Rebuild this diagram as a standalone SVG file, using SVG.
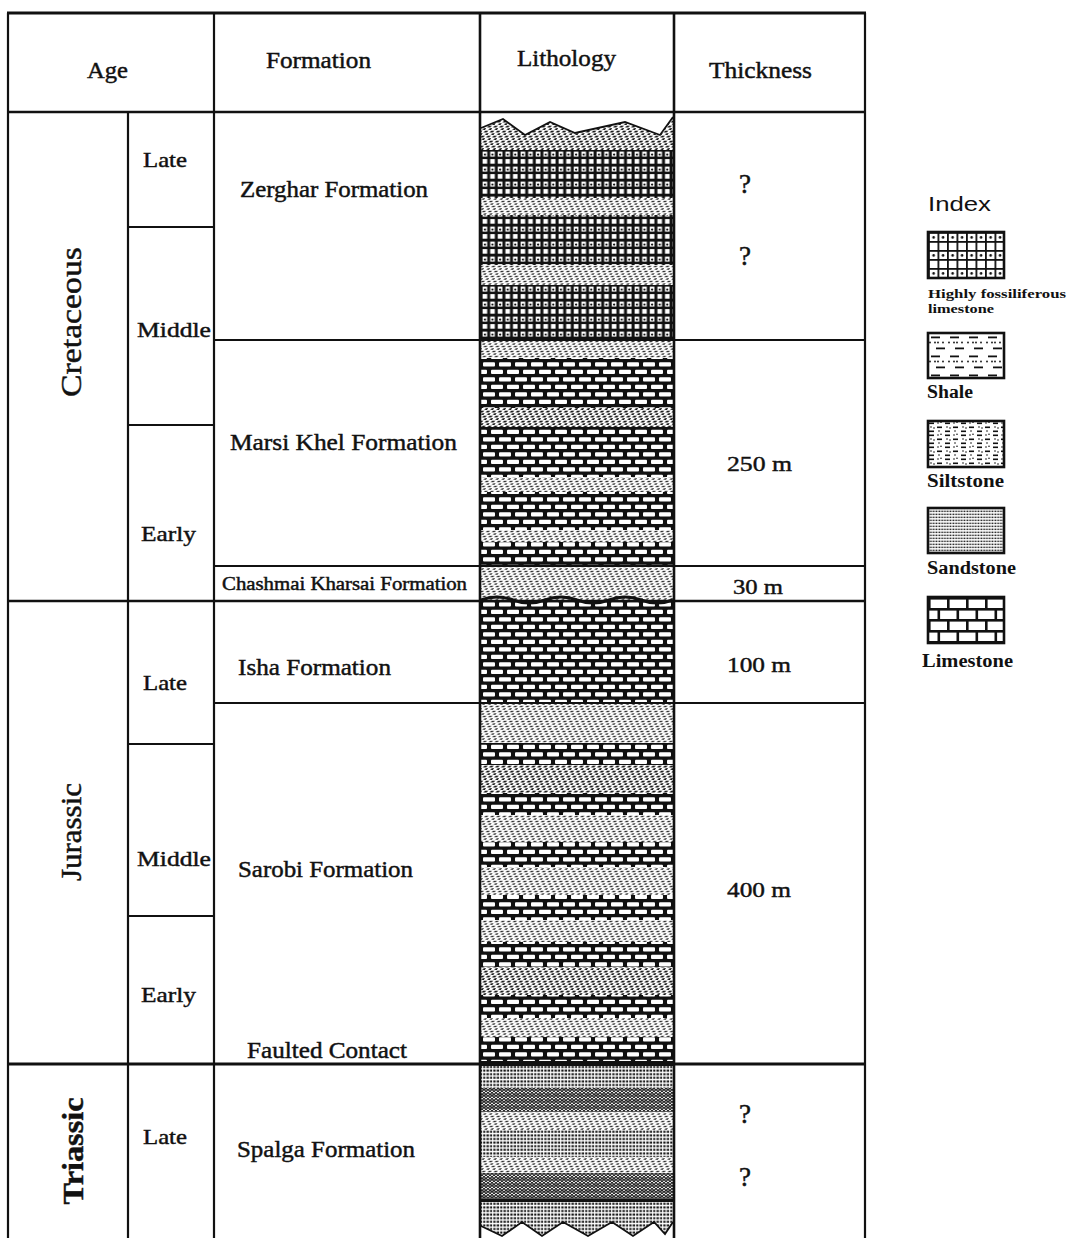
<svg xmlns="http://www.w3.org/2000/svg" width="1068" height="1238" viewBox="0 0 1068 1238">
<style>
 .ln{stroke:#111;stroke-width:2.2;fill:none}
 .t{font-family:"Liberation Serif","Times New Roman",serif;fill:#111;stroke:#111;stroke-width:0.45}
 .hd{font-size:23px}
 .fm{font-size:23px}
 .ag{font-size:22px}
 .th{font-size:22px}
 .q{font-size:27px}
 .era{font-size:30px}
 .lg{font-size:18px;font-weight:bold;stroke-width:0}
 .lgs{font-size:13px;font-weight:bold;stroke-width:0}
 .sans{font-family:"Liberation Sans",Arial,sans-serif;font-size:21px;fill:#111}
 .box{stroke:#111;stroke-width:2.6}
</style>
<defs>
 <pattern id="pLime" patternUnits="userSpaceOnUse" x="481" y="0" width="16" height="15">
  <rect width="16" height="15" fill="#111"/>
  <rect x="2" y="2.3" width="12" height="4.3" rx="1" fill="#fff"/>
  <rect x="10" y="9.8" width="12" height="4.3" rx="1" fill="#fff"/>
  <rect x="-6" y="9.8" width="12" height="4.3" rx="1" fill="#fff"/>
 </pattern>
 <pattern id="pFoss" patternUnits="userSpaceOnUse" x="481" y="0" width="7.6" height="15">
  <rect width="7.6" height="15" fill="#111"/>
  <rect x="1.6" y="1.6" width="4.6" height="5" fill="#fff"/>
  <rect x="1.6" y="9.1" width="4.6" height="4.6" fill="#fff"/>
  <circle cx="3.9" cy="4.6" r="1.1" fill="#111"/>
 </pattern>
 <pattern id="pSilt" patternUnits="userSpaceOnUse" width="6" height="5" patternTransform="skewX(-35)">
  <rect width="6" height="5" fill="#fff"/>
  <rect x="0.5" y="0.6" width="3.2" height="1.9" fill="#1a1a1a"/>
  <rect x="3.5" y="3.1" width="3.2" height="1.9" fill="#1a1a1a"/>
 </pattern>
 <pattern id="pSiltL" patternUnits="userSpaceOnUse" width="6" height="5" patternTransform="skewX(-35)">
  <rect width="6" height="5" fill="#fff"/>
  <rect x="0.5" y="0.7" width="3" height="1.6" fill="#333"/>
  <rect x="3.5" y="3.2" width="3" height="1.6" fill="#333"/>
 </pattern>
 <pattern id="pSand" patternUnits="userSpaceOnUse" width="3.4" height="3.6">
  <rect width="3.4" height="3.6" fill="#fff"/>
  <rect x="0.3" y="0.4" width="2.3" height="2" fill="#111"/>
 </pattern>
 <pattern id="pHerr" patternUnits="userSpaceOnUse" width="8" height="6">
  <rect width="8" height="6" fill="#fff"/>
  <path d="M0 0L2 3L4 0L6 3L8 0M0 3L2 6L4 3L6 6L8 3" fill="none" stroke="#222" stroke-width="1.3"/>
 </pattern>
 <pattern id="legFoss" patternUnits="userSpaceOnUse" x="928" y="232" width="9.5" height="18">
  <rect width="9.5" height="18" fill="#fff"/>
  <rect x="0" y="0" width="9.5" height="1.8" fill="#111"/>
  <rect x="0" y="9" width="9.5" height="1.8" fill="#111"/>
  <rect x="0" y="0" width="1.8" height="18" fill="#111"/>
  <circle cx="5.6" cy="5.4" r="1.3" fill="#111"/>
 </pattern>
 <pattern id="legShale" patternUnits="userSpaceOnUse" x="928" y="333" width="19" height="19">
  <rect width="19" height="19" fill="#fff"/>
  <rect x="3" y="3.5" width="9" height="1.8" fill="#111"/>
  <circle cx="2" cy="9.5" r="0.9" fill="#111"/>
  <circle cx="7" cy="9.5" r="0.9" fill="#111"/>
  <circle cx="10" cy="9.5" r="0.9" fill="#111"/>
  <circle cx="15" cy="9.5" r="0.9" fill="#111"/>
  <rect x="8" y="14.5" width="9" height="1.8" fill="#111"/>
 </pattern>
 <pattern id="legSilt" patternUnits="userSpaceOnUse" x="928" y="421" width="16" height="12">
  <rect width="16" height="12" fill="#fff"/>
  <rect x="1" y="1.5" width="5" height="1.6" fill="#111"/>
  <rect x="9" y="5.5" width="5" height="1.6" fill="#111"/>
  <rect x="1" y="9.5" width="5" height="1.6" fill="#111"/>
  <circle cx="10" cy="2" r="0.8" fill="#111"/>
  <circle cx="13" cy="1.2" r="0.8" fill="#111"/>
  <circle cx="3" cy="6" r="0.8" fill="#111"/>
  <circle cx="6" cy="7" r="0.8" fill="#111"/>
  <circle cx="11" cy="10" r="0.8" fill="#111"/>
 </pattern>
 <pattern id="legSand" patternUnits="userSpaceOnUse" width="2.8" height="3">
  <rect width="2.8" height="3" fill="#fff"/>
  <rect x="0.5" y="0.6" width="1.7" height="1.5" fill="#222"/>
 </pattern>
 <pattern id="legLime" patternUnits="userSpaceOnUse" x="928" y="597" width="19" height="22">
  <rect width="19" height="22" fill="#fff"/>
  <rect x="0" y="0" width="19" height="2.6" fill="#111"/>
  <rect x="0" y="11" width="19" height="2.6" fill="#111"/>
  <rect x="0" y="0" width="2.6" height="11" fill="#111"/>
  <rect x="9.5" y="11" width="2.6" height="11" fill="#111"/>
 </pattern>
</defs>
<rect width="1068" height="1238" fill="#fff"/>

<g id="lithology">
 <rect x="481" y="113" width="192" height="37" fill="url(#pSilt)"/>
 <rect x="481" y="150" width="192" height="48" fill="url(#pFoss)"/>
 <rect x="481" y="198" width="192" height="17" fill="url(#pSiltL)"/>
 <rect x="481" y="215" width="192" height="50" fill="url(#pFoss)"/>
 <rect x="481" y="265" width="192" height="20" fill="url(#pSiltL)"/>
 <rect x="481" y="285" width="192" height="55" fill="url(#pFoss)"/>
 <rect x="481" y="340" width="192" height="18" fill="url(#pSiltL)"/>
 <rect x="481" y="358" width="192" height="50" fill="url(#pLime)"/>
 <rect x="481" y="408" width="192" height="19" fill="url(#pSilt)"/>
 <rect x="481" y="427" width="192" height="50" fill="url(#pLime)"/>
 <rect x="481" y="477" width="192" height="15" fill="url(#pSiltL)"/>
 <rect x="481" y="492" width="192" height="38" fill="url(#pLime)"/>
 <rect x="481" y="530" width="192" height="12" fill="url(#pSiltL)"/>
 <rect x="481" y="542" width="192" height="25" fill="url(#pLime)"/>
 <rect x="481" y="567" width="192" height="33" fill="url(#pSiltL)"/>
 <rect x="481" y="600" width="192" height="103" fill="url(#pLime)"/>
 <rect x="481" y="703" width="192" height="40" fill="url(#pSiltL)"/>
 <rect x="481" y="743" width="192" height="22" fill="url(#pLime)"/>
 <rect x="481" y="765" width="192" height="28" fill="url(#pSilt)"/>
 <rect x="481" y="793" width="192" height="22" fill="url(#pLime)"/>
 <rect x="481" y="815" width="192" height="27" fill="url(#pSiltL)"/>
 <rect x="481" y="842" width="192" height="25" fill="url(#pLime)"/>
 <rect x="481" y="867" width="192" height="28" fill="url(#pSiltL)"/>
 <rect x="481" y="895" width="192" height="25" fill="url(#pLime)"/>
 <rect x="481" y="920" width="192" height="22" fill="url(#pSiltL)"/>
 <rect x="481" y="942" width="192" height="25" fill="url(#pLime)"/>
 <rect x="481" y="967" width="192" height="28" fill="url(#pSilt)"/>
 <rect x="481" y="995" width="192" height="23" fill="url(#pLime)"/>
 <rect x="481" y="1018" width="192" height="19" fill="url(#pSiltL)"/>
 <rect x="481" y="1037" width="192" height="25" fill="url(#pLime)"/>
 <rect x="481" y="1061" width="192" height="5" fill="#111"/>
 <rect x="481" y="1066" width="192" height="22" fill="url(#pSand)"/>
 <rect x="481" y="1088" width="192" height="24" fill="url(#pHerr)"/>
 <rect x="481" y="1112" width="192" height="18" fill="url(#pSiltL)"/>
 <rect x="481" y="1130" width="192" height="27" fill="url(#pSand)"/>
 <rect x="481" y="1157" width="192" height="16" fill="url(#pSiltL)"/>
 <rect x="481" y="1173" width="192" height="27" fill="url(#pHerr)"/>
 <rect x="481" y="1199" width="192" height="3" fill="#111"/>
 <rect x="481" y="1202" width="192" height="40" fill="url(#pSand)"/>
 <polygon points="481,113 481,128 503,119 525,135 550,122 575,133 625,122 660,135 673,117 673,113" fill="#fff"/>
 <polyline points="481,128 503,119 525,135 550,122 575,133 625,122 660,135 673,117" fill="none" stroke="#111" stroke-width="1.8"/>
 <path d="M481 600 Q497 594 513 600 T545 600 T577 600 T609 600 T641 600 T673 600" fill="none" stroke="#111" stroke-width="3"/>
 <polygon points="481,1226 502,1236 522,1222 542,1236 563,1222 588,1236 612,1222 633,1236 654,1222 665,1234 673,1222 673,1240 481,1240" fill="#fff"/>
 <polyline points="481,1226 502,1236 522,1222 542,1236 563,1222 588,1236 612,1222 633,1236 654,1222 665,1234 673,1222" fill="none" stroke="#111" stroke-width="1.8"/>
</g>

<g id="grid" class="ln">
 <line x1="7" y1="13" x2="866" y2="13" stroke-width="2.8"/>
 <line x1="8" y1="13" x2="8" y2="1238"/>
 <line x1="865" y1="13" x2="865" y2="1238"/>
 <line x1="214" y1="13" x2="214" y2="1238"/>
 <line x1="480" y1="13" x2="480" y2="1238" stroke-width="2.6"/>
 <line x1="674" y1="13" x2="674" y2="1238" stroke-width="2.6"/>
 <line x1="128" y1="112" x2="128" y2="1238"/>
 <line x1="8" y1="112" x2="865" y2="112" stroke-width="2.6"/>
 <line x1="128" y1="227" x2="214" y2="227"/>
 <line x1="128" y1="425" x2="214" y2="425"/>
 <line x1="128" y1="744" x2="214" y2="744"/>
 <line x1="128" y1="916" x2="214" y2="916"/>
 <line x1="8" y1="601" x2="865" y2="601" stroke-width="2.6"/>
 <line x1="8" y1="1064" x2="865" y2="1064" stroke-width="2.8"/>
 <line x1="214" y1="340" x2="865" y2="340"/>
 <line x1="214" y1="566" x2="865" y2="566"/>
 <line x1="214" y1="703" x2="865" y2="703"/>
</g>

<g id="header">
 <text class="t hd" x="87" y="78" textLength="41" lengthAdjust="spacingAndGlyphs">Age</text>
 <text class="t hd" x="266" y="68" textLength="105" lengthAdjust="spacingAndGlyphs">Formation</text>
 <text class="t hd" x="517" y="66" textLength="99" lengthAdjust="spacingAndGlyphs">Lithology</text>
 <text class="t hd" x="709" y="78" textLength="103" lengthAdjust="spacingAndGlyphs">Thickness</text>
</g>

<g id="eras">
 <text class="t era" transform="translate(81,322) rotate(-90)" text-anchor="middle" textLength="150" lengthAdjust="spacingAndGlyphs">Cretaceous</text>
 <text class="t era" transform="translate(81,832) rotate(-90)" text-anchor="middle" textLength="98" lengthAdjust="spacingAndGlyphs">Jurassic</text>
 <text class="t era" transform="translate(83,1151) rotate(-90)" text-anchor="middle" font-weight="bold" textLength="107" lengthAdjust="spacingAndGlyphs">Triassic</text>
</g>

<g id="epochs">
 <text class="t ag" x="143" y="167" textLength="44" lengthAdjust="spacingAndGlyphs">Late</text>
 <text class="t ag" x="137" y="337" textLength="74" lengthAdjust="spacingAndGlyphs">Middle</text>
 <text class="t ag" x="141" y="541" textLength="55" lengthAdjust="spacingAndGlyphs">Early</text>
 <text class="t ag" x="143" y="690" textLength="44" lengthAdjust="spacingAndGlyphs">Late</text>
 <text class="t ag" x="137" y="866" textLength="74" lengthAdjust="spacingAndGlyphs">Middle</text>
 <text class="t ag" x="141" y="1002" textLength="55" lengthAdjust="spacingAndGlyphs">Early</text>
 <text class="t ag" x="143" y="1144" textLength="44" lengthAdjust="spacingAndGlyphs">Late</text>
</g>

<g id="formations">
 <text class="t fm" x="240" y="197" textLength="188" lengthAdjust="spacingAndGlyphs">Zerghar Formation</text>
 <text class="t fm" x="230" y="450" textLength="227" lengthAdjust="spacingAndGlyphs">Marsi Khel Formation</text>
 <text class="t" font-size="18" x="222" y="590" textLength="245" lengthAdjust="spacingAndGlyphs">Chashmai Kharsai Formation</text>
 <text class="t fm" x="238" y="675" textLength="153" lengthAdjust="spacingAndGlyphs">Isha Formation</text>
 <text class="t fm" x="238" y="877" textLength="175" lengthAdjust="spacingAndGlyphs">Sarobi Formation</text>
 <text class="t fm" x="247" y="1058" textLength="160" lengthAdjust="spacingAndGlyphs">Faulted Contact</text>
 <text class="t fm" x="237" y="1157" textLength="178" lengthAdjust="spacingAndGlyphs">Spalga Formation</text>
</g>

<g id="thickness">
 <text class="t q" x="745" y="193" text-anchor="middle">?</text>
 <text class="t q" x="745" y="265" text-anchor="middle">?</text>
 <text class="t th" x="727" y="471" textLength="65" lengthAdjust="spacingAndGlyphs">250 m</text>
 <text class="t th" x="733" y="594" textLength="50" lengthAdjust="spacingAndGlyphs">30 m</text>
 <text class="t th" x="727" y="672" textLength="64" lengthAdjust="spacingAndGlyphs">100 m</text>
 <text class="t th" x="727" y="897" textLength="64" lengthAdjust="spacingAndGlyphs">400 m</text>
 <text class="t q" x="745" y="1123" text-anchor="middle">?</text>
 <text class="t q" x="745" y="1186" text-anchor="middle">?</text>
</g>

<g id="legend">
 <text class="sans" x="928" y="211" textLength="63" lengthAdjust="spacingAndGlyphs">Index</text>
 <rect class="box" x="928" y="232" width="76" height="46" fill="url(#legFoss)"/>
 <text class="t lgs" x="928" y="298" textLength="138" lengthAdjust="spacingAndGlyphs">Highly fossiliferous</text>
 <text class="t lgs" x="928" y="313" textLength="66" lengthAdjust="spacingAndGlyphs">limestone</text>
 <rect class="box" x="928" y="333" width="76" height="45" fill="url(#legShale)"/>
 <text class="t lg" x="927" y="398" textLength="46" lengthAdjust="spacingAndGlyphs">Shale</text>
 <rect class="box" x="928" y="421" width="76" height="46" fill="url(#legSilt)"/>
 <text class="t lg" x="927" y="487" textLength="77" lengthAdjust="spacingAndGlyphs">Siltstone</text>
 <rect class="box" x="928" y="508" width="76" height="45" fill="url(#legSand)"/>
 <text class="t lg" x="927" y="574" textLength="89" lengthAdjust="spacingAndGlyphs">Sandstone</text>
 <rect class="box" x="928" y="597" width="76" height="46" fill="url(#legLime)"/>
 <text class="t lg" x="922" y="667" textLength="91" lengthAdjust="spacingAndGlyphs">Limestone</text>
</g>
</svg>
